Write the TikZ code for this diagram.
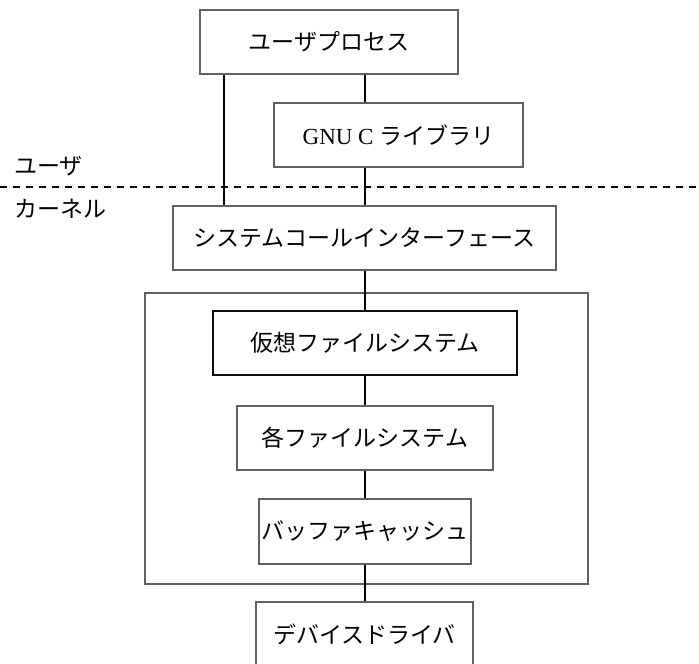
\documentclass[tikz,border=0pt]{standalone}
\usepackage{fontspec}
\setmainfont{Liberation Serif}
\newfontfamily\jp{Noto Sans CJK JP}
\begin{document}
\begin{tikzpicture}[x=1pt,y=-1pt,
  box/.style={draw=black!62, line width=1.3pt, inner sep=0pt, font=\fontsize{23}{27}\selectfont, text=black},
  strongbox/.style={box, draw=black!95, line width=1.8pt},
  conn/.style={draw=black, line width=1.2pt},
  sidelabel/.style={inner sep=0pt, anchor=west, font=\fontsize{23}{27}\selectfont\jp}]
\useasboundingbox (0,0) rectangle (699,664);
\node[box, minimum width=443pt, minimum height=291pt] (big) at (366.5,438.5) {};
\node[box, minimum width=258pt, minimum height=64pt] (up) at (329,42) {\jp ユーザプロセス};
\node[box, minimum width=249pt, minimum height=64pt] (glibc) at (398.5,135) {GNU C {\jp ライブラリ}};
\node[box, minimum width=383pt, minimum height=64pt] (sci) at (364.5,238) {\jp システムコールインターフェース};
\node[strongbox, minimum width=304pt, minimum height=64pt] (vfs) at (365,343) {\jp 仮想ファイルシステム};
\node[box, minimum width=256pt, minimum height=64pt] (fs) at (365,438) {\jp 各ファイルシステム};
\node[box, minimum width=212pt, minimum height=65pt] (buf) at (365,531.5) {\jp バッファキャッシュ};
\node[box, minimum width=217pt, minimum height=64pt] (dev) at (364.5,634) {\jp デバイスドライバ};
\node[sidelabel] (ulab) at (14,166) {ユーザ};
\node[sidelabel] (klab) at (14,209) {カーネル};
\coordinate (dl) at (0,187);
\coordinate (dr) at (699,187);
\draw[conn, dash pattern=on 6.5pt off 6.5pt] (dl) -- (dr);
\coordinate (lx) at (224,0);
\coordinate (cx) at (365,0);
\draw[conn] (up.south -| lx) -- (sci.north -| lx);
\draw[conn] (up.south -| cx) -- (glibc.north -| cx);
\draw[conn] (glibc.south -| cx) -- (sci.north -| cx);
\draw[conn] (sci.south -| cx) -- (vfs.north);
\draw[conn] (vfs.south) -- (fs.north);
\draw[conn] (fs.south) -- (buf.north);
\draw[conn] (buf.south) -- (dev.north -| buf.south);
\end{tikzpicture}
\end{document}
